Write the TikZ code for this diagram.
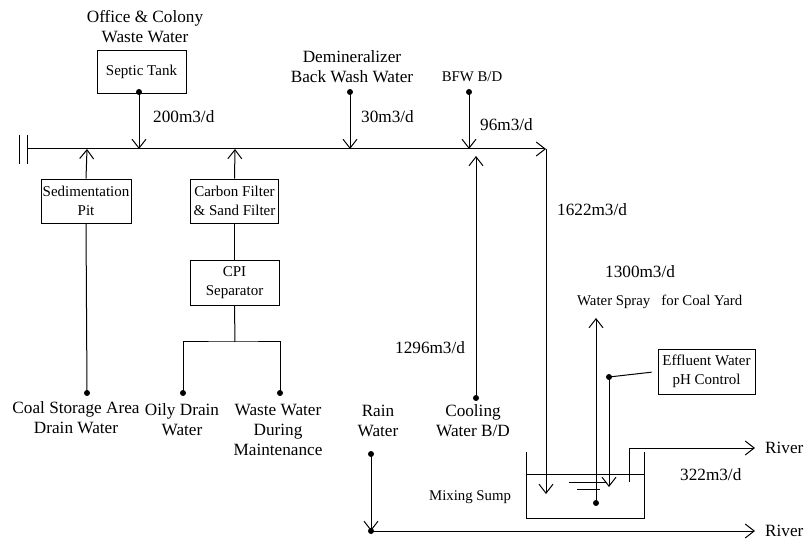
\documentclass[tikz,border=0pt]{standalone}
\usepackage{fontspec}
\setmainfont{Liberation Serif}
\usetikzlibrary{arrows.meta}
\begin{document}
\begin{tikzpicture}[x=1pt,y=-1pt,
  line/.style={line width=1pt},
  flow/.style={line width=1pt,-{Straight Barb[length=9pt,width=14pt,line width=1pt]}},
  box/.style={draw,line width=0.8pt,align=center,inner sep=0pt,font=\fontsize{15}{18.5}\selectfont},
  dot/.style={circle,fill,inner sep=0pt,minimum size=6pt},
  lbl/.style={inner sep=0pt,align=center,font=\fontsize{17.2}{20}\selectfont},
  small/.style={inner sep=0pt,align=center,font=\fontsize{14.8}{18}\selectfont}]
\useasboundingbox (0,0) rectangle (806,545);
% boxes
\node[box,minimum width=89pt,minimum height=43pt] (septic) at (141.5,71.5) {Septic Tank};
\node[box,minimum width=90pt,minimum height=44pt] (sed) at (86,201) {Sedimentation\\Pit};
\node[box,minimum width=88pt,minimum height=44pt] (carbon) at (234.5,201) {Carbon Filter\\\& Sand Filter};
\node[box,minimum width=89pt,minimum height=45pt] (cpi) at (234.5,282.5) {CPI\\Separator};
\node[box,minimum width=97pt,minimum height=45pt] (eff) at (706.5,371.5) {Effluent Water\\pH Control};
% labels
\node[lbl] (office) at (145,27) {Office \& Colony\\Waste Water};
\node[lbl] (demin) at (352,67) {Demineralizer\\Back Wash Water};
\node[small] (bfw) at (472,77) {BFW B/D};
\node[lbl,anchor=west] (q200) at (153,117) {200m3/d};
\node[lbl,anchor=west] (q30) at (361,117) {30m3/d};
\node[lbl,anchor=west] (q96) at (480,125) {96m3/d};
\node[lbl,anchor=west] (q1622) at (557,210) {1622m3/d};
\node[lbl,anchor=west] (q1296) at (395,348) {1296m3/d};
\node[lbl,anchor=west] (q1300) at (605,272) {1300m3/d};
\node[small,anchor=west] (spray) at (577,302) {Water Spray\ \ \ for Coal Yard};
\node[lbl] (coal) at (76,418) {Coal Storage Area\\Drain Water};
\node[lbl] (oily) at (182,420) {Oily Drain\\Water};
\node[lbl] (maint) at (278,430) {Waste Water\\During\\Maintenance};
\node[lbl] (rain) at (378,421) {Rain\\Water};
\node[lbl] (cool) at (473,421) {Cooling\\Water B/D};
\node[small,anchor=west] (mix) at (429,497) {Mixing Sump};
\node[lbl,anchor=west] (q322) at (680,475) {322m3/d};
\node[lbl,anchor=west] (river1) at (765,448) {River};
\node[lbl,anchor=west] (river2) at (765,531) {River};
% coordinates
\coordinate (b1t) at (19,135); \coordinate (b1b) at (19,164);
\coordinate (b2t) at (27,135); \coordinate (b2b) at (27,164);
\coordinate (mL) at (27,149); \coordinate (mR) at (546,149);
\coordinate (jSeptic) at (139,149);
\coordinate (jSed) at (87,149);
\coordinate (jCarbon) at (235,149);
\coordinate (jDemin) at (350,149);
\coordinate (jBfw) at (469,149);
\coordinate (jCool) at (476,156);
\coordinate (sumpIn) at (546,494);
\coordinate (split) at (235,342);
\coordinate (sprayTop) at (596,318);
\coordinate (effIn) at (609,487);
\coordinate (swTL) at (526,452); \coordinate (swBL) at (526,518);
\coordinate (swBR) at (644,518); \coordinate (swTR) at (644,452);
\coordinate (wlL) at (526,474); \coordinate (wlR) at (644,474);
\coordinate (g1L) at (569,482); \coordinate (g1R) at (606,482);
\coordinate (g2L) at (577,489); \coordinate (g2R) at (600,489);
\coordinate (outB) at (629,482); \coordinate (outT) at (629,448);
\coordinate (river1a) at (755,448);
\coordinate (river2a) at (755,531);
% dots
\node[dot] (dSeptic) at (139,92) {};
\node[dot] (dDemin) at (350,92) {};
\node[dot] (dBfw) at (469,92) {};
\node[dot] (dCoal) at (87,393) {};
\node[dot] (dOily) at (183,393) {};
\node[dot] (dMaint) at (280,393) {};
\node[dot] (dCool) at (476,398) {};
\node[dot] (dRain) at (371,454) {};
\node[dot] (dRainEnd) at (371,531) {};
\node[dot] (dSpray) at (596,503) {};
\node[dot] (dEff) at (609,377) {};
% main line
\draw[line] (b1t) -- (b1b);
\draw[line] (b2t) -- (b2b);
\draw[flow] (mL) -- (mR);
\draw[flow] (mR) -- (sumpIn);
% inflows
\draw[flow] (dSeptic.center) -- (jSeptic);
\draw[flow] (dDemin.center) -- (jDemin);
\draw[flow] (dBfw.center) -- (jBfw);
\draw[flow] (sed.north) -- (jSed);
\draw[flow] (carbon.north) -- (jCarbon);
\draw[flow] (dCool.center) -- (jCool);
\draw[line] (dCoal.center) -- (sed.south);
\draw[line] (carbon.south) -- (cpi.north);
\draw[line] (cpi.south) -- (split);
\draw[line] (dOily.center) |- (split) -| (dMaint.center);
% sump
\draw[line] (swTL) -- (swBL) -- (swBR) -- (swTR);
\draw[line] (wlL) -- (wlR);
\draw[line] (g1L) -- (g1R);
\draw[line] (g2L) -- (g2R);
\draw[flow] (dSpray.center) -- (sprayTop);
\draw[line,shorten <=6pt] (eff.west) -- (dEff.center);
\draw[flow] (dEff.center) -- (effIn);
\draw[flow] (outB) -- (outT) -- (river1a);
\draw[flow] (dRain.center) -- (dRainEnd.center);
\draw[flow] (dRainEnd.center) -- (river2a);
\end{tikzpicture}
\end{document}
